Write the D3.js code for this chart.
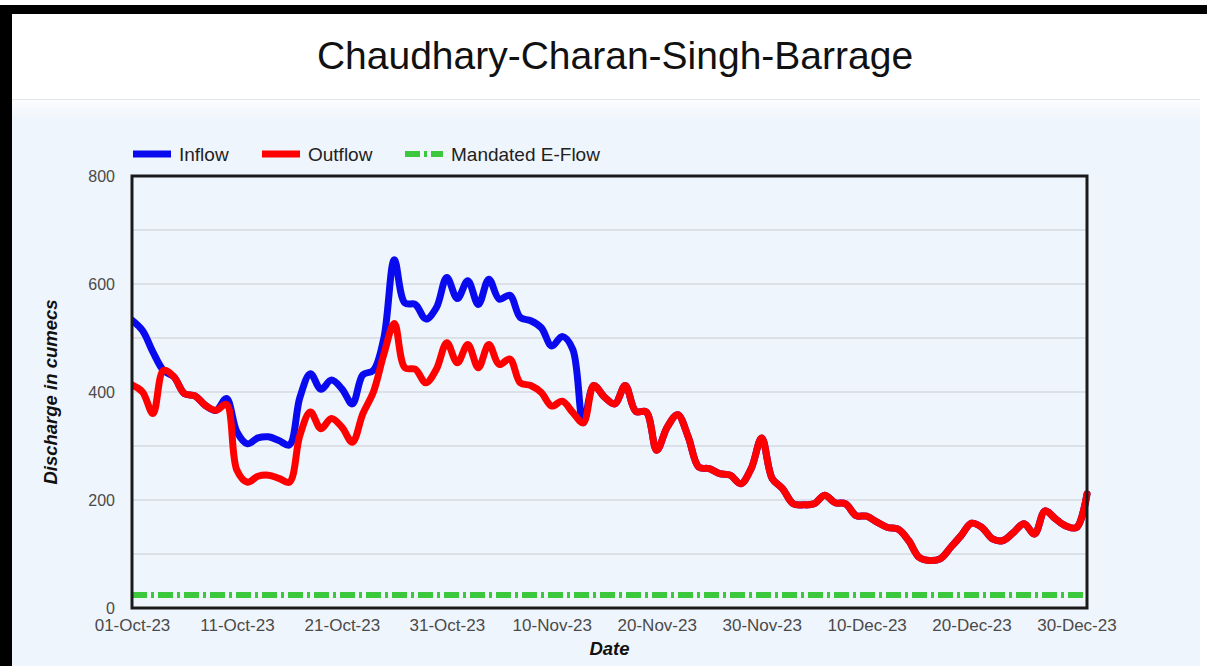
<!DOCTYPE html>
<html>
<head>
<meta charset="utf-8">
<script src="https://cdn.jsdelivr.net/npm/d3@7"></script>
<style>
  html, body { margin: 0; padding: 0; background: #ffffff; }
  svg { display: block; font-family: "Liberation Sans", Arial, sans-serif; }
</style>
</head>
<body>
<svg id="chart" width="1207" height="666"></svg>
<script>
// ---------------- DATA ----------------
const startDate = "2023-10-01";
const dayCount = 92; // 01-Oct-23 .. 31-Dec-23
const inflow = [
  533, 514, 474, 440, 428, 397, 393, 375, 366, 388,
  326, 304, 315, 317, 310, 302, 390, 434, 405, 422,
  406, 378, 432, 440, 500, 645, 565, 562, 535, 556,
  612, 573, 606, 562, 609, 572, 579, 538, 532, 519,
  485, 503, 479, 343, 412, 391, 378, 412, 364, 363,
  292, 335, 358, 317, 261, 258, 249, 246, 230, 258,
  315, 240, 221, 193, 191, 193, 209, 195, 193, 171,
  170, 159, 149, 146, 125, 94, 88, 91, 112, 134,
  157, 149, 128, 125, 140, 156, 137, 180, 165, 152,
  149, 211
];
const outflow = [
  413, 400, 360, 440, 428, 397, 393, 375, 366, 377,
  255, 233, 244, 246, 240, 233, 320, 363, 332, 351,
  335, 307, 360, 400, 470, 527, 445, 442, 417, 442,
  491, 454, 488, 445, 488, 451, 461, 417, 412, 399,
  374, 383, 362, 343, 412, 391, 378, 412, 364, 363,
  292, 335, 358, 317, 261, 258, 249, 246, 230, 258,
  315, 240, 221, 193, 191, 193, 209, 195, 193, 171,
  170, 159, 149, 146, 125, 94, 88, 91, 112, 134,
  157, 149, 128, 125, 140, 156, 137, 180, 165, 152,
  149, 211
];
const eflow = 24;
const yTicks = [0, 200, 400, 600, 800];
const yGrid = [100, 200, 300, 400, 500, 600, 700];
const xTickLabels = ["01-Oct-23","11-Oct-23","21-Oct-23","31-Oct-23","10-Nov-23",
                     "20-Nov-23","30-Nov-23","10-Dec-23","20-Dec-23","30-Dec-23"];
const seriesNames = ["Inflow", "Outflow", "Mandated E-Flow"];
const title = "Chaudhary-Charan-Singh-Barrage";
const yTitle = "Discharge in cumecs";
const xTitle = "Date";

// ---------------- LAYOUT ----------------
const svg = d3.select("#chart");
const W = 1207, H = 666;
const plot = { left: 132, right: 1087, top: 176, bottom: 608 };
const colors = { inflow: "#0a0aee", outflow: "#ff0000", eflow: "#3cc83c" };
const dashPattern = "15,4,3,4";

const parse = d3.timeParse("%Y-%m-%d");
const t0 = parse(startDate);
const dates = d3.range(dayCount).map(i => d3.timeDay.offset(t0, i));
const tickDates = xTickLabels.map(s => d3.timeParse("%d-%b-%y")(s));

const x = d3.scaleTime().domain([dates[0], dates[dates.length - 1]]).range([plot.left, plot.right]);
const y = d3.scaleLinear().domain([0, 800]).range([plot.bottom, plot.top]);

// defs
const defs = svg.append("defs");
const g1 = defs.append("linearGradient").attr("id", "sep").attr("x1", 0).attr("x2", 0).attr("y1", 0).attr("y2", 1);
g1.append("stop").attr("offset", "0%").attr("stop-color", "#fbfcfe");
g1.append("stop").attr("offset", "100%").attr("stop-color", "#eff5fc");

// page frame
svg.append("rect").attr("x", 0).attr("y", 0).attr("width", W).attr("height", H).attr("fill", "#ffffff");
svg.append("rect").attr("x", 12).attr("y", 100).attr("width", 1188).attr("height", 20).attr("fill", "url(#sep)");
svg.append("rect").attr("x", 12).attr("y", 120).attr("width", 1188).attr("height", H - 120).attr("fill", "#eff5fc");
svg.append("line").attr("x1", 12).attr("x2", 1200).attr("y1", 99.5).attr("y2", 99.5)
  .attr("stroke", "#e3e6ea").attr("stroke-width", 1);
// black border (left and top)
svg.append("rect").attr("x", 0).attr("y", 5).attr("width", 12).attr("height", H - 5).attr("fill", "#000");
svg.append("rect").attr("x", 0).attr("y", 5).attr("width", W).attr("height", 9).attr("fill", "#000");

// title
svg.append("text").attr("x", 615).attr("y", 69).attr("text-anchor", "middle")
  .attr("font-size", 39).attr("fill", "#111").text(title);

// gridlines
svg.append("g").selectAll("line").data(yGrid).join("line")
  .attr("x1", plot.left).attr("x2", plot.right)
  .attr("y1", d => y(d)).attr("y2", d => y(d))
  .attr("stroke", "#d6dae0").attr("stroke-width", 1.5);

// y axis labels
const yAxis = d3.axisLeft(y).tickValues(yTicks).tickSize(0).tickPadding(17);
const gy = svg.append("g").attr("transform", `translate(${plot.left},0)`).call(yAxis);
gy.select(".domain").remove();
gy.selectAll("text").attr("font-size", 16).attr("fill", "#4a4a4a")
  .attr("font-family", '"Liberation Sans", Arial, sans-serif');

// x axis labels
const xAxis = d3.axisBottom(x).tickValues(tickDates).tickFormat(d3.timeFormat("%d-%b-%y")).tickSize(0).tickPadding(11);
const gx = svg.append("g").attr("transform", `translate(0,${plot.bottom})`).call(xAxis);
gx.select(".domain").remove();
gx.selectAll("text").attr("font-size", 17).attr("fill", "#4a4a4a")
  .attr("font-family", '"Liberation Sans", Arial, sans-serif');

// axis titles
svg.append("text").attr("transform", `translate(57,${(plot.top + plot.bottom) / 2}) rotate(-90)`)
  .attr("text-anchor", "middle").attr("font-size", 18.5).attr("font-weight", "bold").attr("font-style", "italic")
  .attr("fill", "#111").text(yTitle);
svg.append("text").attr("x", (plot.left + plot.right) / 2).attr("y", 655).attr("text-anchor", "middle")
  .attr("font-size", 18.5).attr("font-weight", "bold").attr("font-style", "italic")
  .attr("fill", "#111").text(xTitle);

// lines
const line = d3.line().x((d, i) => x(dates[i])).y(d => y(d)).curve(d3.curveCatmullRom.alpha(0.5));
const clip = defs.append("clipPath").attr("id", "plotclip");
clip.append("rect").attr("x", plot.left).attr("y", plot.top - 10).attr("width", plot.right - plot.left + 4).attr("height", plot.bottom - plot.top + 10);

const lines = svg.append("g").attr("clip-path", "url(#plotclip)");
lines.append("path").datum(dates.map(() => eflow)).attr("d", line)
  .attr("fill", "none").attr("stroke", colors.eflow).attr("stroke-width", 6)
  .attr("stroke-dasharray", dashPattern);
lines.append("path").datum(inflow).attr("d", line)
  .attr("fill", "none").attr("stroke", colors.inflow).attr("stroke-width", 7)
  .attr("stroke-linejoin", "round").attr("stroke-linecap", "round");
lines.append("path").datum(outflow).attr("d", line)
  .attr("fill", "none").attr("stroke", colors.outflow).attr("stroke-width", 7)
  .attr("stroke-linejoin", "round").attr("stroke-linecap", "round");

// plot frame
svg.append("rect").attr("x", plot.left).attr("y", plot.top)
  .attr("width", plot.right - plot.left).attr("height", plot.bottom - plot.top)
  .attr("fill", "none").attr("stroke", "#1a1a1a").attr("stroke-width", 3);

// legend
const legendItems = [
  { name: seriesNames[0], color: colors.inflow, x: 133, dash: null },
  { name: seriesNames[1], color: colors.outflow, x: 262, dash: null },
  { name: seriesNames[2], color: colors.eflow, x: 405, dash: dashPattern }
];
const lg = svg.append("g").selectAll("g").data(legendItems).join("g")
  .attr("transform", d => `translate(${d.x},154)`);
lg.append("line").attr("x1", 0).attr("x2", 38).attr("y1", 0).attr("y2", 0)
  .attr("stroke", d => d.color).attr("stroke-width", d => d.dash ? 6 : 7)
  .attr("stroke-dasharray", d => d.dash);
lg.append("text").attr("x", 46).attr("y", 7).attr("font-size", 19).attr("fill", "#222").text(d => d.name);
</script>
</body>
</html>
